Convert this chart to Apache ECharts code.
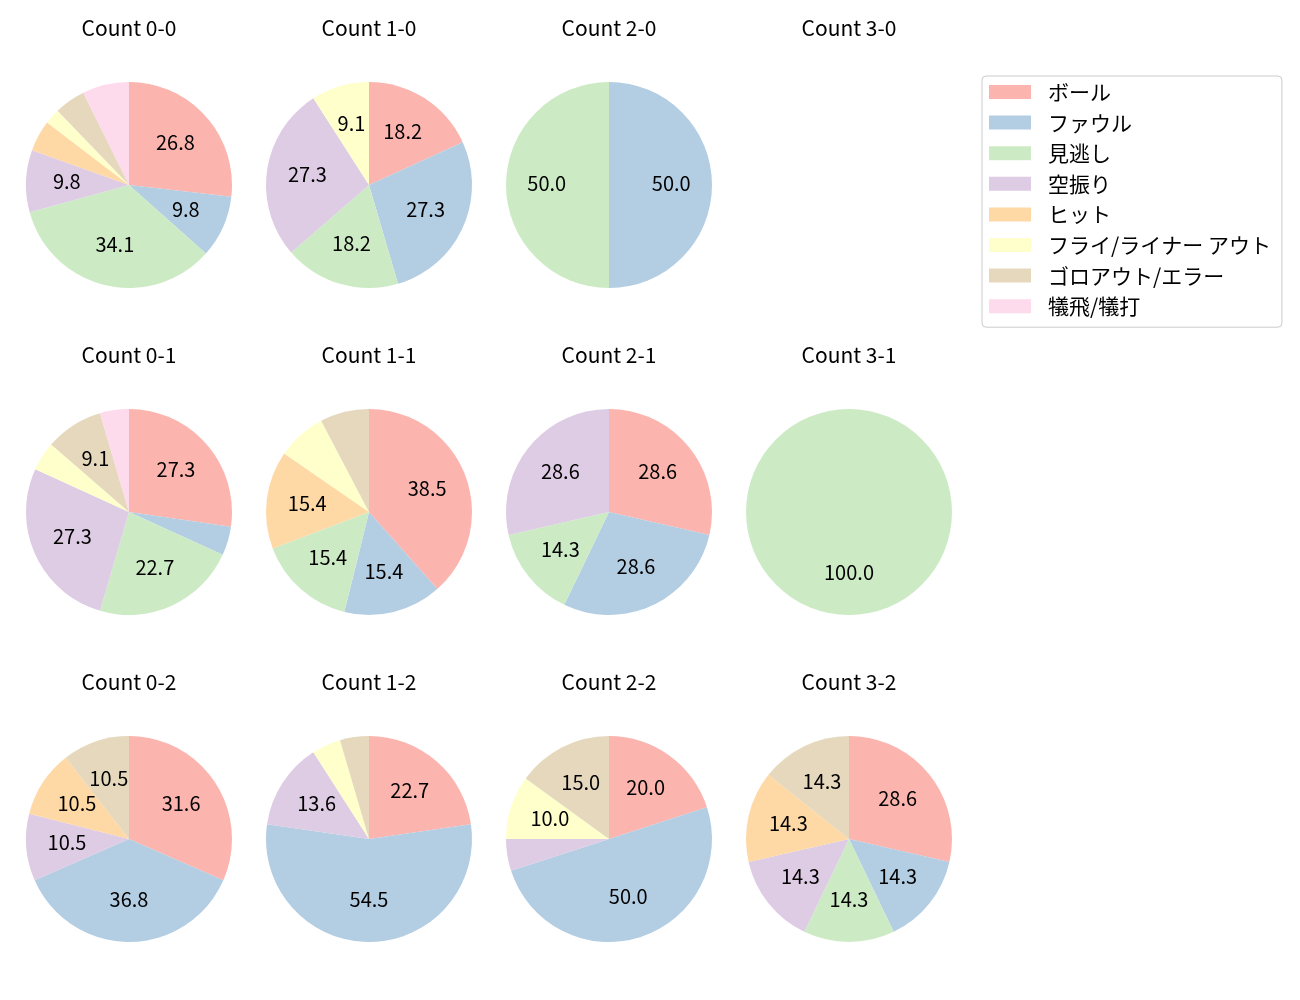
<!DOCTYPE html>
<html>
<head>
<meta charset="utf-8">
<script src="https://cdn.jsdelivr.net/npm/echarts@6/dist/echarts.min.js"></script>
<style>
  html, body { margin: 0; padding: 0; background: #fff; }
  #chart { width: 1300px; height: 1000px; }
</style>
</head>
<body>
<div id="chart"></div>
<script>
// 球種カテゴリ（凡例の順）
const categories = ["ボール", "ファウル", "見逃し", "空振り", "ヒット", "フライ/ライナー アウト", "ゴロアウト/エラー", "犠飛/犠打"];
const colors = ["#fbb4ae", "#b3cde3", "#ccebc5", "#decbe4", "#fed9a6", "#ffffcc", "#e5d8bd", "#fddaec"];

// カウント別の件数
const count00 = [11, 4, 14, 4, 2, 1, 2, 3];
const count10 = [2, 3, 2, 3, 0, 1, 0, 0];
const count20 = [0, 1, 1, 0, 0, 0, 0, 0];
const count30 = [];
const count01 = [6, 1, 5, 6, 0, 1, 2, 1];
const count11 = [5, 2, 2, 0, 2, 1, 1, 0];
const count21 = [2, 2, 1, 2, 0, 0, 0, 0];
const count31 = [0, 0, 1, 0, 0, 0, 0, 0];
const count02 = [6, 7, 0, 2, 2, 0, 2, 0];
const count12 = [5, 12, 0, 3, 0, 1, 1, 0];
const count22 = [4, 10, 0, 1, 0, 2, 3, 0];
const count32 = [2, 1, 1, 1, 1, 0, 1, 0];

const panels = [
  { title: "Count 0-0", data: count00 },
  { title: "Count 1-0", data: count10 },
  { title: "Count 2-0", data: count20 },
  { title: "Count 3-0", data: count30 },
  { title: "Count 0-1", data: count01 },
  { title: "Count 1-1", data: count11 },
  { title: "Count 2-1", data: count21 },
  { title: "Count 3-1", data: count31 },
  { title: "Count 0-2", data: count02 },
  { title: "Count 1-2", data: count12 },
  { title: "Count 2-2", data: count22 },
  { title: "Count 3-2", data: count32 }
];

const FONT = "'Noto Sans CJK JP', 'Noto Sans', sans-serif";
const colX = [129, 369, 609, 849];
const rowY = [185, 512, 839];
const R = 103;
const MIN_LABEL = 8; // これ未満の割合はラベルなし

const toItems = (arr) => arr.map((v, i) => ({ name: categories[i], value: v, itemStyle: { color: colors[i] } }));

const titles = [];
const pies = [];
const labelPies = [];

panels.forEach((p, idx) => {
  const cx = colX[idx % 4];
  const cy = rowY[Math.floor(idx / 4)];
  titles.push({
    text: p.title,
    left: cx,
    top: cy - 167,
    textAlign: "center",
    padding: 0,
    textStyle: { fontFamily: FONT, fontSize: 21, fontWeight: "normal", color: "#000" }
  });
  if (!p.data.length) return;
  const total = p.data.reduce((a, b) => a + b, 0);
  pies.push({
    type: "pie",
    center: [cx, cy],
    radius: [0, R],
    startAngle: 90,
    clockwise: true,
    avoidLabelOverlap: false,
    label: { show: false },
    labelLine: { show: false },
    itemStyle: { borderWidth: 0 },
    emphasis: { disabled: true },
    data: toItems(p.data)
  });
  // ラベルを中心から約0.6Rに置くための透明な重ね
  labelPies.push({
    type: "pie",
    center: [cx, cy - 1.5],
    radius: [R * 0.15, R],
    startAngle: 90,
    clockwise: true,
    silent: true,
    avoidLabelOverlap: false,
    itemStyle: { color: "rgba(0,0,0,0)", borderWidth: 0 },
    label: {
      show: true,
      position: "inside",
      fontFamily: FONT,
      fontSize: 20,
      color: "#000",
      formatter: (d) => {
        const pct = (d.value / total) * 100;
        return pct >= MIN_LABEL ? pct.toFixed(1) : "";
      }
    },
    labelLine: { show: false },
    emphasis: { disabled: true },
    data: p.data.map((v, i) => ({ name: categories[i], value: v }))
  });
});

const chart = echarts.init(document.getElementById("chart"));
chart.setOption({
  animation: false,
  backgroundColor: "#fff",
  title: titles,
  legend: {
    orient: "vertical",
    left: 982,
    top: 76,
    padding: [5.5, 11, 10.5, 7],
    itemWidth: 42,
    itemHeight: 14,
    itemGap: 9.6,
    icon: "rect",
    borderColor: "#cccccc",
    borderWidth: 1,
    borderRadius: 4,
    selectedMode: false,
    textStyle: { fontFamily: FONT, fontSize: 21, color: "#000", padding: [0, 0, 0, 12] },
    data: categories.map((c, i) => ({ name: c, itemStyle: { color: colors[i] } }))
  },
  series: pies.concat(labelPies)
});
</script>
</body>
</html>
